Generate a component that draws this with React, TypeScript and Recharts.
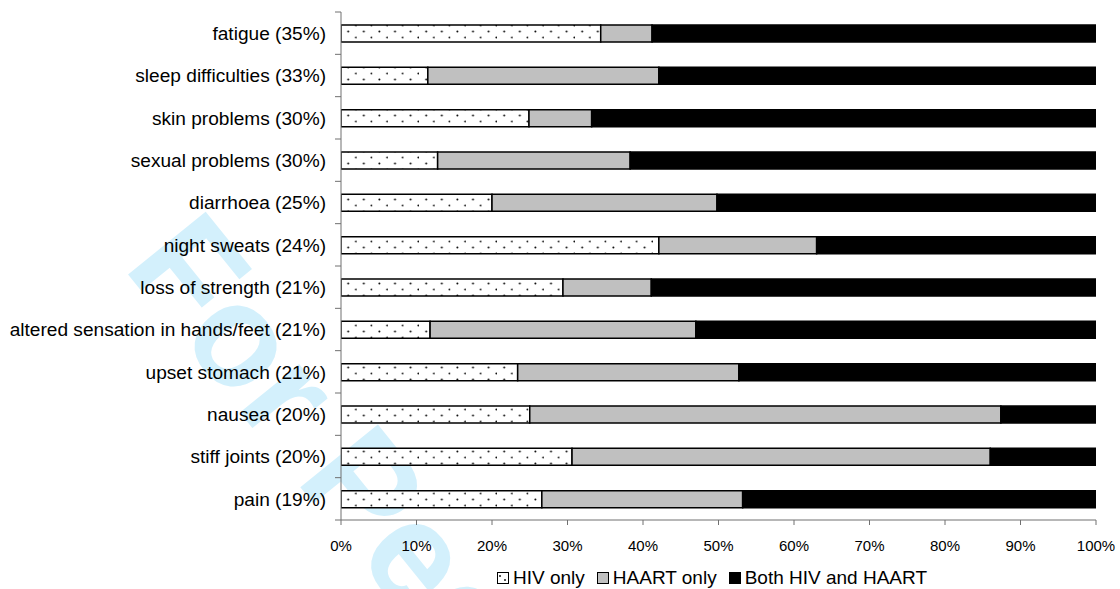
import { BarChart, Bar, XAxis, YAxis } from 'recharts';

const symptoms = [
  'fatigue (35%)',
  'sleep difficulties (33%)',
  'skin problems (30%)',
  'sexual problems (30%)',
  'diarrhoea (25%)',
  'night sweats (24%)',
  'loss of strength (21%)',
  'altered sensation in hands/feet (21%)',
  'upset stomach (21%)',
  'nausea (20%)',
  'stiff joints (20%)',
  'pain (19%)',
];
const hivOnly = [34.4, 11.5, 24.9, 12.8, 20.0, 42.1, 29.4, 11.8, 23.4, 25.0, 30.6, 26.6];
const haartOnly = [6.8, 30.6, 8.3, 25.5, 29.8, 20.9, 11.7, 35.2, 29.3, 62.4, 55.4, 26.6];
const bothHivHaart = [58.8, 57.9, 66.8, 61.7, 50.2, 37.0, 58.9, 53.0, 47.3, 12.6, 14.0, 46.8];
const xTicks = [0, 10, 20, 30, 40, 50, 60, 70, 80, 90, 100];
const seriesNames = ['HIV only', 'HAART only', 'Both HIV and HAART'];

const rows = symptoms.map((name, i) => ({
  name,
  hiv: hivOnly[i],
  haart: haartOnly[i],
  both: bothHivHaart[i],
}));

const W = 1120;
const H = 589;
const TOP = 12;
const BOTTOM = 520;
const Y_AXIS_W = 341;
const font = '"Liberation Sans", Arial, sans-serif';
const axisColor = '#707070';
const band = (BOTTOM - TOP) / symptoms.length;

function SymptomTick(props: any) {
  const { x, y, payload, index } = props;
  const axisX = x + 15;
  return (
    <g>
      <line x1={axisX - 6} x2={axisX} y1={y - band / 2} y2={y - band / 2} stroke={axisColor} />
      {index === symptoms.length - 1 && (
        <line x1={axisX - 6} x2={axisX} y1={y + band / 2} y2={y + band / 2} stroke={axisColor} />
      )}
      <text x={x} y={y} dy="0.35em" textAnchor="end" fontSize={19.1} fontFamily={font} fill="#000">
        {payload.value}
      </text>
    </g>
  );
}

function Swatch({ kind }: { kind: number }) {
  const fill = kind === 0 ? '#fff' : kind === 1 ? '#c0c0c0' : '#000';
  return (
    <svg width={12} height={12} style={{ marginRight: 4 }}>
      <rect x={0.5} y={0.5} width={11} height={11} fill={fill} stroke="#000" />
      {kind === 0 && (
        <>
          <circle cx={3} cy={4} r={0.9} fill="#000" />
          <circle cx={8} cy={8} r={0.9} fill="#000" />
        </>
      )}
    </svg>
  );
}

export default function App() {
  return (
    <div style={{ position: 'absolute', left: 0, top: 0, width: W, height: H, background: '#fff', overflow: 'hidden' }}>
      <svg width={W} height={H} style={{ position: 'absolute', left: 0, top: 0 }}>
        <text
          x={0}
          y={0}
          transform="translate(122 267) rotate(51)"
          fontSize={145}
          fontWeight="bold"
          fontFamily={font}
          fill="#d3f0fc"
        >
          For Peer Review
        </text>
      </svg>
      <div style={{ position: 'absolute', left: 0, top: 0 }}>
        <BarChart
          layout="vertical"
          width={W}
          height={H}
          data={rows}
          margin={{ top: TOP, right: W - 1096, bottom: 0, left: 0 }}
        >
          <defs>
            <pattern id="dots" patternUnits="userSpaceOnUse" x={341} y={0} width={15.6} height={12}>
              <rect width={15.6} height={12} fill="#fff" />
              <circle cx={15} cy={1.5} r={1} fill="#111" />
              <circle cx={7.2} cy={7.5} r={1} fill="#111" />
            </pattern>
          </defs>
          <XAxis
            type="number"
            domain={[0, 100]}
            ticks={xTicks}
            tickFormatter={(v: number) => `${v}%`}
            stroke={axisColor}
            tickSize={5}
            tickMargin={15}
            height={H - BOTTOM}
            tick={{ fill: '#000', fontSize: 15, fontFamily: font }}
            allowDataOverflow
          />
          <YAxis
            type="category"
            dataKey="name"
            width={Y_AXIS_W}
            interval={0}
            tickSize={0}
            tickMargin={15}
            stroke={axisColor}
            tick={<SymptomTick />}
          />
          <Bar dataKey="hiv" name={seriesNames[0]} stackId="s" fill="url(#dots)" stroke="#000" strokeWidth={1.5} barSize={17} isAnimationActive={false} />
          <Bar dataKey="haart" name={seriesNames[1]} stackId="s" fill="#c0c0c0" stroke="#000" strokeWidth={1.5} barSize={17} isAnimationActive={false} />
          <Bar dataKey="both" name={seriesNames[2]} stackId="s" fill="#000" stroke="#000" strokeWidth={1.5} barSize={17} isAnimationActive={false} />
        </BarChart>
      </div>
      <div
        style={{
          position: 'absolute',
          left: 497,
          top: 567,
          height: 22,
          display: 'flex',
          alignItems: 'center',
          fontFamily: font,
          fontSize: 19,
          color: '#000',
          whiteSpace: 'nowrap',
        }}
      >
        {seriesNames.map((n, i) => (
          <span key={n} style={{ display: 'flex', alignItems: 'center', marginRight: 12 }}>
            <Swatch kind={i} />
            {n}
          </span>
        ))}
      </div>
    </div>
  );
}
